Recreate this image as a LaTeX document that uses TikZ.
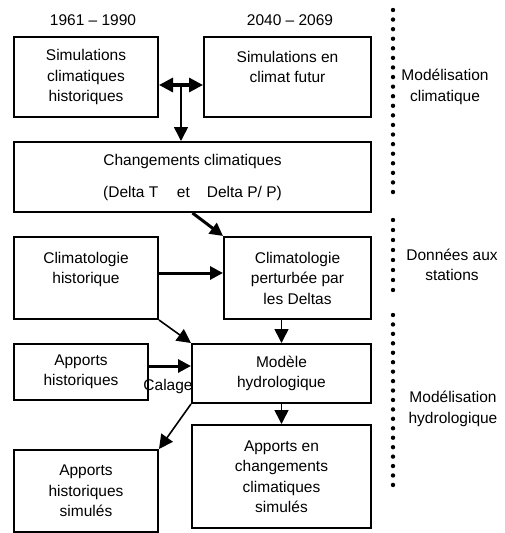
\documentclass[tikz,border=0pt]{standalone}
\usepackage{fontspec}
\setmainfont{Liberation Sans}
\usetikzlibrary{arrows.meta,positioning,calc}

\tikzset{
  bloc/.style={draw, line width=2pt, inner sep=0pt, align=center},
  fleche/.style={line width=1.6pt, -{Triangle[length=14pt,width=14pt]}},
  grosfleche/.style={line width=3pt, -{Triangle[length=13pt,width=13pt]}},
  dbl/.style={line width=3.2pt, {Triangle[length=14pt,width=14pt]}-{Triangle[length=14pt,width=14pt]}},
}

\begin{document}
\begin{tikzpicture}[x=1pt,y=-1pt,every node/.style={font=\fontsize{15.5}{20.5}\selectfont}]
    \useasboundingbox (0,0) rectangle (504,533);

    % Periods
    \node (p1) at (93,20) {1961 – 1990};
    \node (p2) at (290,20) {2040 – 2069};

    % Climate modelling
    \node[bloc, minimum width=144pt, minimum height=80pt] (simhist) at (86,77) {Simulations\\climatiques\\historiques};
    \node[bloc, minimum width=167pt, minimum height=80pt] (simfut) at (287.5,77) {Simulations en\\climat futur\\\mbox{}};
    \node[bloc, minimum width=357pt, minimum height=70pt] (delta) at (192.5,177) {Changements climatiques\\[11.5pt](Delta T\hspace{1.2em}et\hspace{1.1em}Delta P/ P)};

    % Station data
    \node[bloc, minimum width=144pt, minimum height=82pt] (climhist) at (86,278) {Climatologie\\historique\\\mbox{}};
    \node[bloc, minimum width=147pt, minimum height=82pt] (climpert) at (297.5,278) {Climatologie\\perturbée par\\les Deltas};

    % Hydrological modelling
    \node[bloc, minimum width=179pt, minimum height=59pt] (modele) at (281.5,373.5) {Modèle\\hydrologique};
    \node[bloc, minimum width=134pt, minimum height=56pt] (apphist) at (81,372) {Apports\\historiques};
    \node[bloc, minimum width=144pt, minimum height=82pt] (appsim) at (86,491) {Apports\\historiques\\simulés};
    \node[bloc, minimum width=179pt, minimum height=103pt] (appcc) at (281.5,476.5) {Apports en\\changements\\climatiques\\simulés};

    % Arrows
    \draw[dbl] ($(simhist.east)+(0,8)$) -- ($(simfut.west)+(0,8)$);
    \coordinate (j) at ($(simhist.east)!0.5!(simfut.west)+(0,8)$);
    \draw[fleche] (j) -- (j |- delta.north);
    \draw[grosfleche] (delta.south) -- (climpert.north west);
    \draw[grosfleche] ($(climhist.east)+(0,-5)$) -- ($(climpert.west)+(0,-5)$);
    \draw[fleche] (climhist.south east) -- (modele.north west);
    \draw[fleche] (modele.north |- climpert.south) -- (modele.north);
    \draw[grosfleche] ($(apphist.east)+(0,-6)$) coordinate (cal) -- (cal -| modele.west);
    \node (calage) at (168,386) {Calage};
    \draw[fleche] (modele.south west) -- (appsim.north east);
    \draw[fleche] (modele.south) -- (appcc.north);

    % Dotted separators
    \foreach \k in {0,...,19} \fill (393,10+9.58*\k) circle (2.2pt);
    \foreach \k in {0,...,7} \fill (393,220+10*\k) circle (2.2pt);
    \foreach \k in {0,...,18} \fill (393,315+9.44*\k) circle (2.2pt);

    \node[align=center] (modclim) at (445,87) {Modélisation\\climatique};
    \node[align=center] (donnees) at (452,265) {Données aux\\stations};
    \node[align=center] (modhyd) at (453,409) {Modélisation\\hydrologique};
\end{tikzpicture}
\end{document}
